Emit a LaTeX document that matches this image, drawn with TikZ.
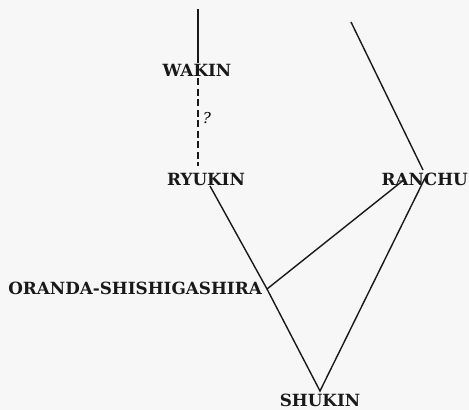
\documentclass[tikz,border=0pt]{standalone}
\usepackage{fontspec}
\setmainfont{DejaVu Serif}
\begin{document}
\begin{tikzpicture}[x=1pt,y=-1pt,
  lbl/.style={font=\bfseries\fontsize{16.8}{18}\selectfont, inner sep=1pt, text=black!90},
  ln/.style={line width=1.4pt, black!90},
  dsh/.style={ln, dash pattern=on 7pt off 3.5pt}]
\fill[black!3] (0,0) rectangle (469,410);
\useasboundingbox (0,0) rectangle (469,410);
\node[lbl] (wakin) at (197,70) {WAKIN};
\node[lbl] (ryukin) at (206,179) {RYUKIN};
\node[lbl, anchor=east] (ranchu) at (469,179) {RANCHU};
\node[lbl, anchor=east] (oranda) at (263,288) {ORANDA-SHISHIGASHIRA};
\node[lbl, anchor=base] (shukin) at (320,406) {SHUKIN};
\node[font=\itshape\fontsize{15}{16}\selectfont, inner sep=0pt] (q) at (207,118) {?};
\coordinate (wtop) at (198,9);
\coordinate (wbot) at (198,63);
\coordinate (dtop) at (198,78);
\coordinate (dbot) at (198,166);
\coordinate (rytail) at (210,186);
\coordinate (oj) at (267,289);
\coordinate (apex) at (320,391);
\coordinate (rtop) at (351,22);
\coordinate (rj) at (423,170);
\coordinate (rj2) at (425,178);
\coordinate (rl) at (405,179);
\draw[ln] (wtop) -- (wbot);
\draw[dsh] (dtop) -- (dbot);
\draw[ln] (rytail) -- (oj) -- (apex) -- (rj2);
\draw[ln] (rtop) -- (rj);
\draw[ln] (oj) -- (rl);
\end{tikzpicture}
\end{document}
